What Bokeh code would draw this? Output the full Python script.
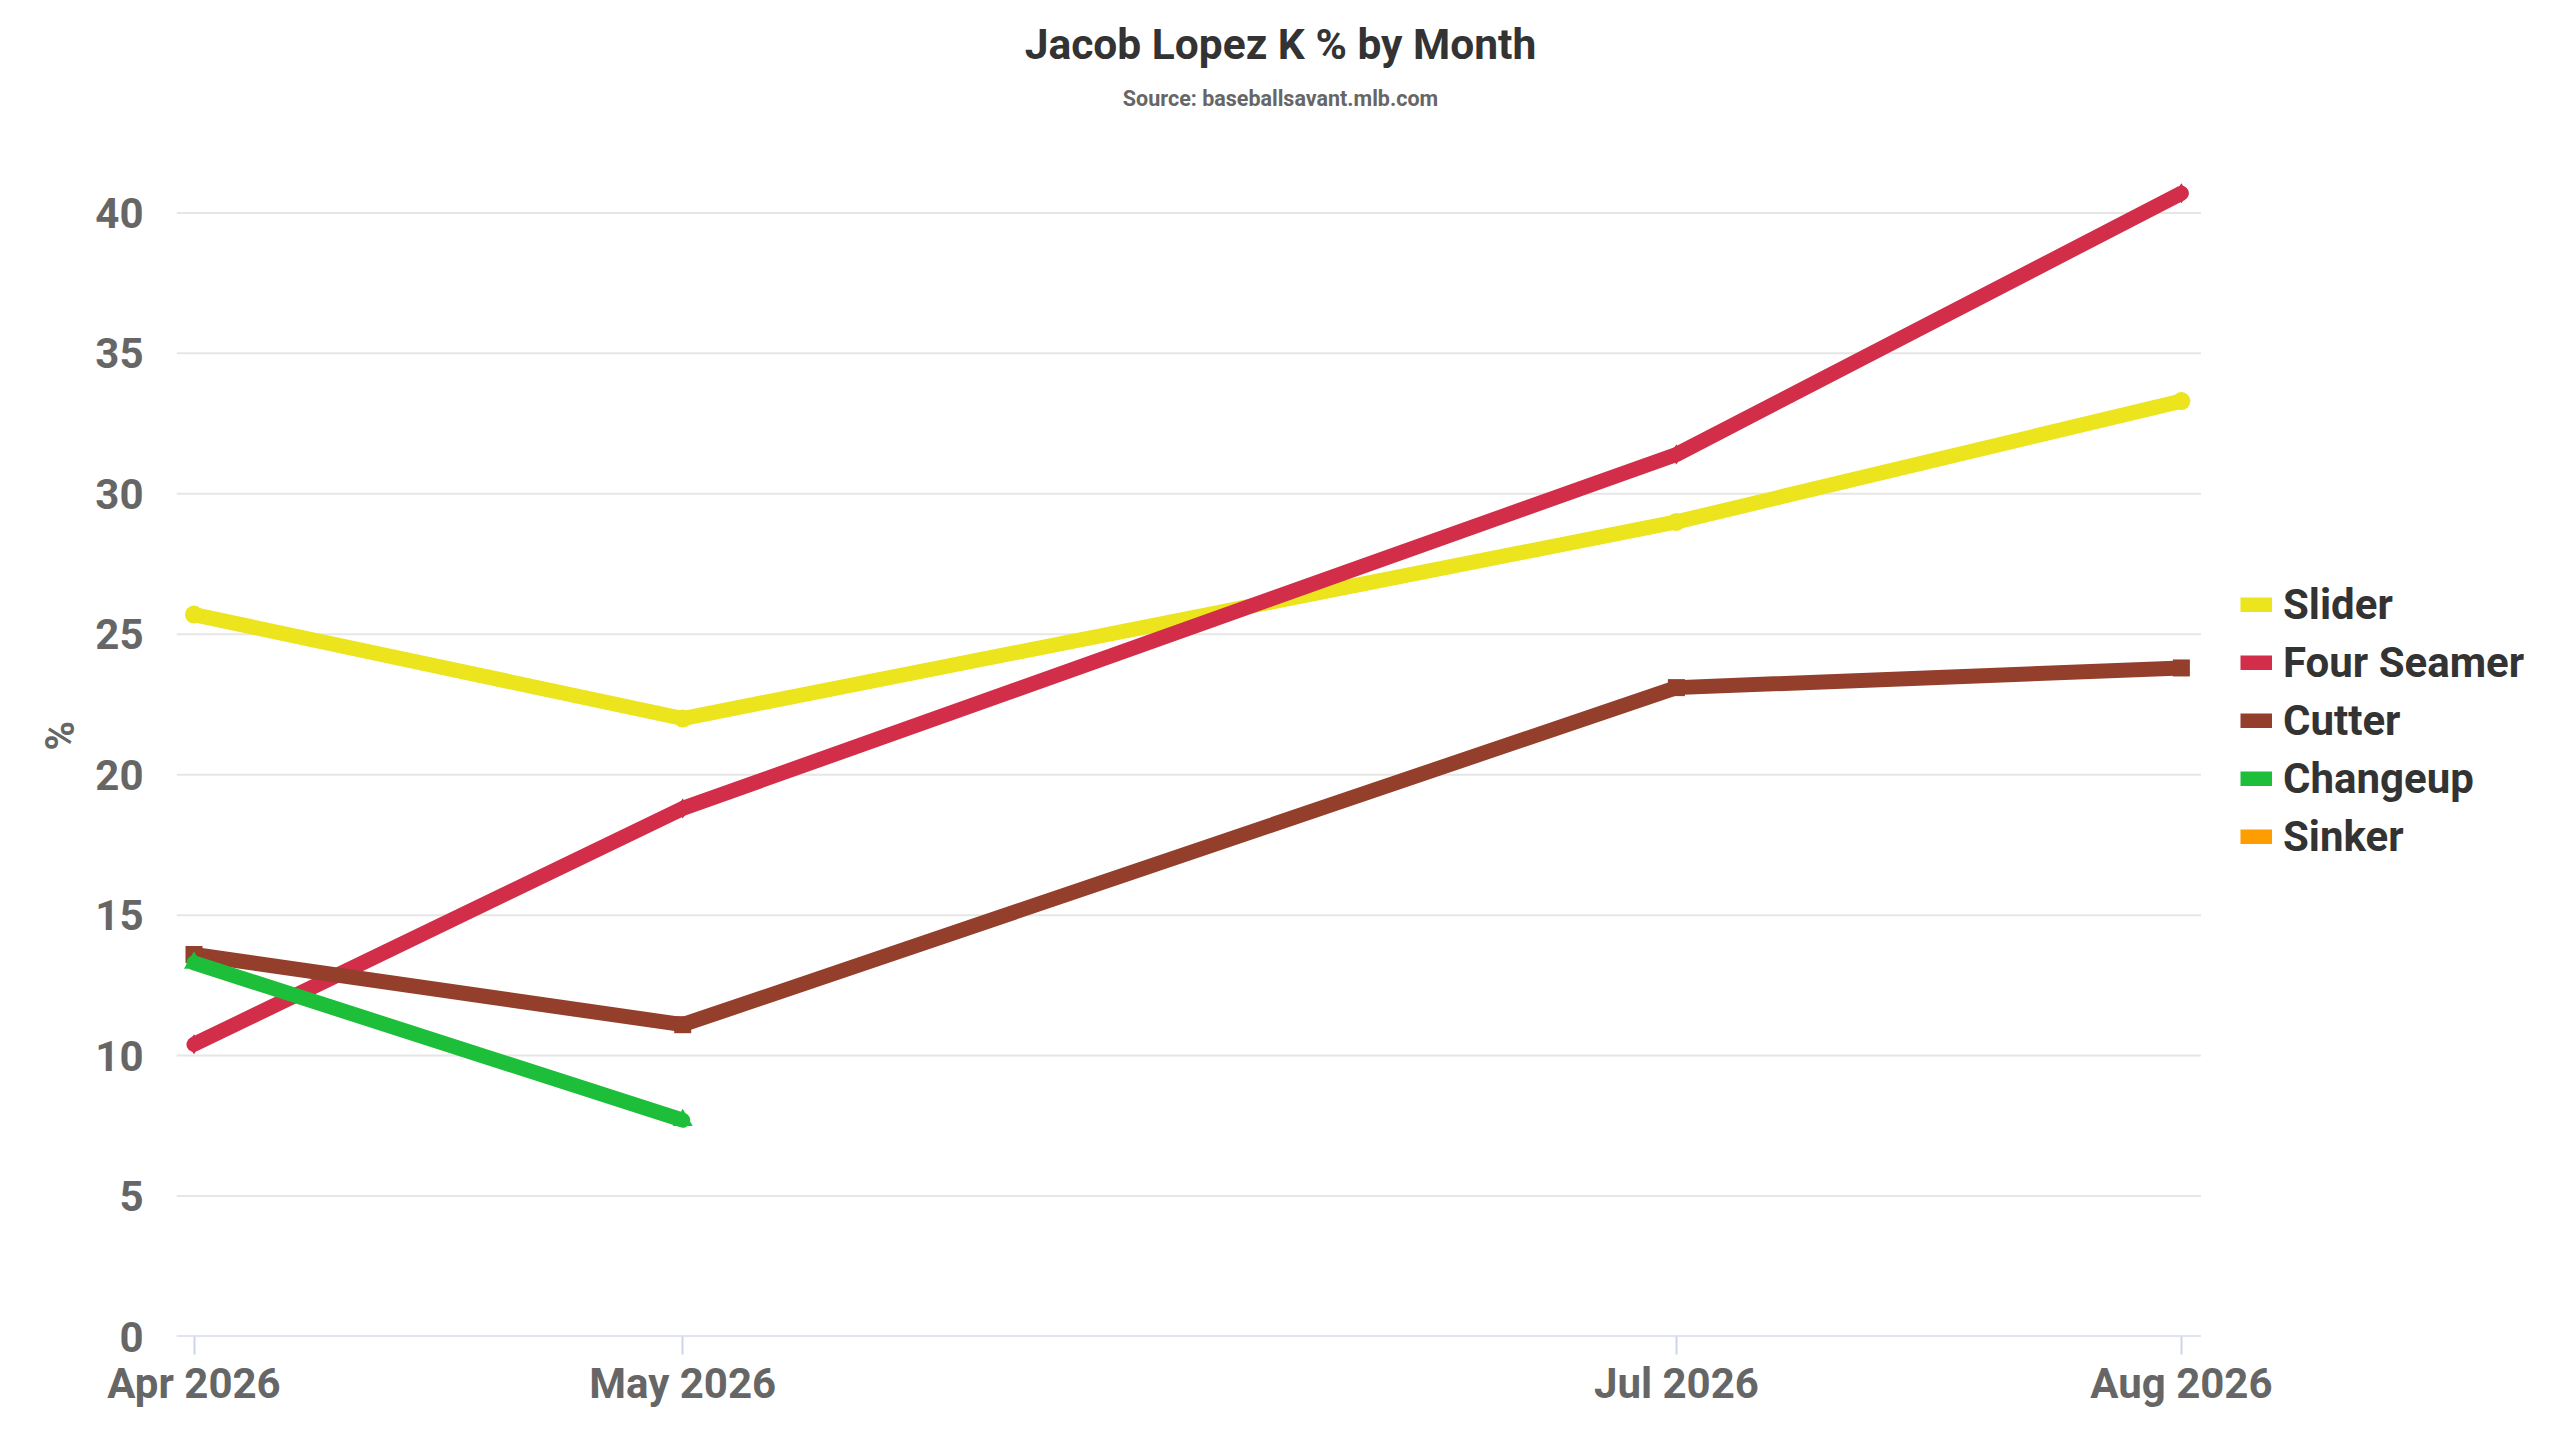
from datetime import datetime, timedelta
from bokeh.plotting import figure
from bokeh.models import (Range1d, FixedTicker, DatetimeTickFormatter, Label, Title,
                          Legend, LegendItem, ColumnDataSource)
from bokeh.embed import file_html
from bokeh.resources import INLINE

# ---- data ----
months = ["2026-04-01", "2026-05-01", "2026-07-01", "2026-08-01"]
tick_labels = ["Apr 2026", "May 2026", "Jul 2026", "Aug 2026"]
y_ticks = [0, 5, 10, 15, 20, 25, 30, 35, 40]
slider = [25.7, 22.0, 29.0, 33.3]
four_seamer = [10.4, 18.8, 31.4, 40.7]
cutter = [13.6, 11.1, 23.1, 23.8]
changeup_months = ["2026-04-01", "2026-05-01"]
changeup = [13.3, 7.7]
sinker_months = ["2026-04-01"]
sinker = [float("nan")]   # no Sinker values shown in the chart

title_text = "Jacob Lopez K % by Month"
subtitle_text = "Source: baseballsavant.mlb.com"
y_title = "%"

FONT = "Roboto"
W, H = 2544, 1424
LEFT, BOTTOM = 176, 88
FRAME_H = H - BOTTOM          # frame spans from the canvas top to the x axis
PX_PER_UNIT = 28.09
PX_PER_DAY = 16.29
PAD_L, PAD_R = 17.5, 19.5


def to_dt(lst):
    return [datetime.strptime(s, "%Y-%m-%d") for s in lst]


x_main = to_dt(months)
x_start = x_main[0] - timedelta(days=PAD_L / PX_PER_DAY)
x_end = x_start + timedelta(days=(W - LEFT) / PX_PER_DAY)
x_grid_end = x_main[-1] + timedelta(days=PAD_R / PX_PER_DAY)

p = figure(width=W, height=H, x_axis_type="datetime",
           x_range=Range1d(x_start, x_end),
           y_range=Range1d(0, FRAME_H / PX_PER_UNIT),
           output_backend="svg", toolbar_location=None,
           min_border_left=LEFT, min_border_right=0,
           min_border_top=0, min_border_bottom=BOTTOM)
p.outline_line_color = None
p.xgrid.grid_line_color = None
p.ygrid.grid_line_color = None

# horizontal grid lines (plot-area width only) and x axis line
p.segment(x0=[x_start] * len(y_ticks), x1=[x_grid_end] * len(y_ticks),
          y0=y_ticks, y1=y_ticks, line_color="#e6e6e6", line_width=2)
p.segment(x0=[x_start], x1=[x_grid_end], y0=[y_ticks[0]], y1=[y_ticks[0]],
          line_color="#ccd6eb", line_width=2)

xa = p.xaxis[0]
xa.ticker = FixedTicker(ticks=[(d - datetime(1970, 1, 1)).total_seconds() * 1000 for d in x_main])
fmt = "%b %Y"
xa.formatter = DatetimeTickFormatter(microseconds=fmt, milliseconds=fmt, seconds=fmt,
                                     minsec=fmt, minutes=fmt, hourmin=fmt, hours=fmt,
                                     days=fmt, months=fmt, years=fmt, context=None)
xa.axis_line_color = None
xa.major_tick_line_color = "#ccd6eb"
xa.major_tick_line_width = 2
xa.major_tick_out = 18
xa.major_tick_in = 0
xa.minor_tick_line_color = None
xa.major_label_text_font = FONT
xa.major_label_text_font_style = "bold"
xa.major_label_text_font_size = "42px"
xa.major_label_text_color = "#666666"
xa.major_label_standoff = 4

ya = p.yaxis[0]
ya.ticker = FixedTicker(ticks=y_ticks)
ya.axis_line_color = None
ya.major_tick_line_color = None
ya.minor_tick_line_color = None
ya.major_label_text_font = FONT
ya.major_label_text_font_style = "bold"
ya.major_label_text_font_size = "42px"
ya.major_label_text_color = "#666666"
ya.major_label_standoff = 27

# y axis title, placed in the left panel
p.add_layout(Title(text=y_title, align="left", offset=FRAME_H - 750,
                   vertical_align="middle", standoff=15,
                   text_font=FONT, text_font_style="bold",
                   text_font_size="40px", text_color="#666666"), "left")

LW = 15
series = [
    ("Slider", x_main, slider, "#ECE41C", "circle", 18),
    ("Four Seamer", x_main, four_seamer, "#D22D49", "diamond", 20),
    ("Cutter", x_main, cutter, "#933F2C", "square", 17),
    ("Changeup", to_dt(changeup_months), changeup, "#1DBE3A", "triangle", 20),
    ("Sinker", to_dt(sinker_months), sinker, "#FE9D00", "inverted_triangle", 20),
]

items = []
for name, xs, ys, color, marker, msize in series:
    src = ColumnDataSource(dict(x=xs, y=ys))
    p.line("x", "y", source=src, line_color=color, line_width=LW,
           line_join="round", line_cap="round")
    p.scatter("x", "y", source=src, marker=marker, size=msize,
              fill_color=color, line_color=color, line_width=0)
    # legend swatch: same series styling with a flat line end
    proxy = p.line(x=[xs[0]], y=[float("nan")], line_color=color, line_width=LW,
                   line_cap="butt")
    items.append(LegendItem(label=name, renderers=[proxy]))

legend = Legend(items=items, location=(2240 - LEFT, 475))
legend.label_text_font = FONT
legend.label_text_font_style = "bold"
legend.label_text_font_size = "42px"
legend.label_text_color = "#333333"
legend.glyph_width = 32
legend.glyph_height = 15
legend.label_standoff = 11
legend.label_height = 50
legend.spacing = 8
legend.padding = 0
legend.margin = 0
legend.border_line_color = None
legend.background_fill_alpha = 0
p.add_layout(legend, "center")

# title and subtitle (screen offsets from the plot frame's bottom-left)
p.add_layout(Label(x=1280 - LEFT, y=FRAME_H - 44, x_units="screen", y_units="screen",
                   text=title_text, text_align="center", text_baseline="middle",
                   text_font=FONT, text_font_style="bold",
                   text_font_size="42.5px", text_color="#333333"))
p.add_layout(Label(x=1280 - LEFT, y=FRAME_H - 98, x_units="screen", y_units="screen",
                   text=subtitle_text, text_align="center", text_baseline="middle",
                   text_font=FONT, text_font_style="bold",
                   text_font_size="21.5px", text_color="#666666"))

open("out.html", "w").write(file_html(p, INLINE))
